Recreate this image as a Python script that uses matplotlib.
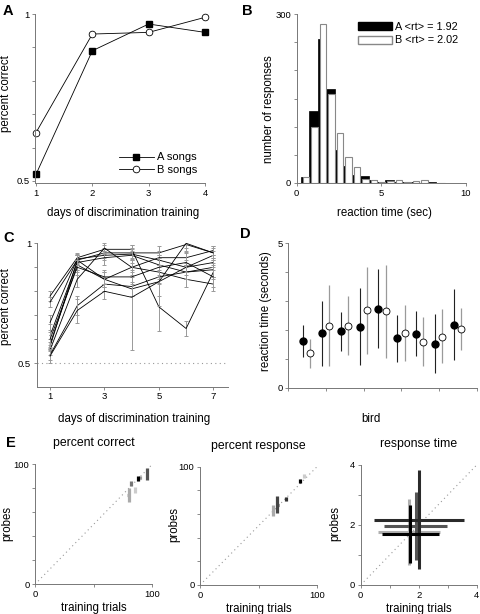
import matplotlib
matplotlib.use('Agg')
import matplotlib.pyplot as plt
import numpy as np
from matplotlib.patches import Patch

plt.rcParams['font.family'] = ['Liberation Sans', 'DejaVu Sans']
plt.rcParams['font.size'] = 8.3

# ---- datos ----
# A: percent correct por dia
days_a = [1, 2, 3, 4]
a_songs = [0.52, 0.89, 0.97, 0.945]
b_songs = [0.645, 0.94, 0.945, 0.99]

# B: histograma de tiempos de reaccion (bins de 0.5 s)
bin_left = np.arange(0.25, 8.5, 0.5)
hist_a = [10, 127, 255, 166, 59, 30, 15, 13, 5, 2, 5, 2.5, 2, 1.2, 0.5, 2, 0]
hist_b = [10, 99, 283, 158, 89, 47, 28, 7, 6, 1.5, 3, 5.5, 1.5, 3, 4.5, 0.6, 0]

# C: percent correct por ave y dia
days_c = [1, 2, 3, 4, 5, 6, 7]
c_means = [
    [0.78, 0.94, 0.975, 0.975, 0.735, 0.645, 0.88],
    [0.755, 0.93, 0.96, 0.96, 0.96, 0.995, 0.96],
    [0.67, 0.935, 0.95, 0.955, 0.93, 0.90, 0.95],
    [0.615, 0.92, 0.94, 0.95, 0.91, 0.88, 0.89],
    [0.58, 0.91, 0.85, 0.90, 0.94, 0.94, 0.97],
    [0.57, 0.93, 0.85, 0.81, 0.84, 0.90, 0.92],
    [0.555, 0.85, 0.98, 0.90, 0.88, 0.85, 0.83],
    [0.535, 0.74, 0.83, 0.82, 0.86, 0.88, 0.90],
    [0.53, 0.72, 0.80, 0.775, 0.84, 1.00, 0.96],
    [0.60, 0.90, 0.86, 0.86, 0.90, 0.92, 0.86],
]
c_errs = [
    [0.02, 0.02, 0.02, 0.02, 0.10, 0.03, 0.03],
    [0.02, 0.02, 0.02, 0.02, 0.03, 0.03, 0.02],
    [0.03, 0.02, 0.02, 0.02, 0.02, 0.02, 0.02],
    [0.05, 0.03, 0.03, 0.02, 0.04, 0.03, 0.03],
    [0.02, 0.02, 0.03, 0.03, 0.03, 0.03, 0.02],
    [0.02, 0.02, 0.03, 0.03, 0.06, 0.03, 0.03],
    [0.02, 0.03, 0.02, 0.02, 0.03, 0.03, 0.03],
    [0.02, 0.04, 0.03, 0.04, 0.03, 0.03, 0.04],
    [0.03, 0.05, 0.03, 0.22, 0.10, 0.02, 0.03],
    [0.03, 0.03, 0.03, 0.03, 0.04, 0.04, 0.04],
]

# D: tiempo de reaccion por ave (A lleno, B vacio)
birds = np.arange(1, 10)
d_filled = [1.62, 1.88, 1.96, 2.10, 2.71, 1.72, 1.87, 1.52, 2.17]
d_filled_lo = [1.07, 0.76, 1.28, 0.77, 1.36, 0.90, 1.10, 0.51, 0.96]
d_filled_hi = [2.17, 3.00, 2.61, 3.44, 4.10, 2.53, 2.64, 2.54, 3.41]
d_open = [1.20, 2.15, 2.15, 2.68, 2.66, 1.88, 1.58, 1.77, 2.03]
d_open_lo = [0.69, 0.75, 1.12, 1.18, 1.04, 0.94, 0.75, 0.84, 1.30]
d_open_hi = [1.69, 3.55, 3.18, 4.18, 4.24, 2.85, 2.44, 2.71, 2.75]

# E: probes vs training trials
e1_x = [79.8, 84.9, 82.0, 89.7, 87.7, 95.4]
e1_y = [74.5, 78.5, 84.0, 89.0, 88.0, 92.0]
e1_xerr = [1.0, 0.6, 0.6, 0.6, 0.8, 0.6]
e1_yerr = [5.5, 2.5, 2.0, 1.5, 2.3, 5.0]
e1_col = ['#aaaaaa', '#cccccc', '#777777', '#999999', '#000000', '#555555']

e2_x = [62.0, 66.0, 73.5, 85.5, 89.0]
e2_y = [63.0, 68.0, 73.0, 88.0, 92.0]
e2_xerr = [0.6, 1.3, 0.6, 1.0, 1.0]
e2_yerr = [4.5, 7.0, 1.8, 2.0, 1.5]
e2_col = ['#aaaaaa', '#444444', '#333333', '#000000', '#cccccc']

e3_x = [1.68, 1.90, 2.01, 1.71]
e3_y = [1.76, 1.97, 2.17, 1.70]
e3_xerr = [1.07, 1.08, 1.55, 0.99]
e3_yerr = [1.10, 1.12, 1.65, 0.97]
e3_col = ['#b0b0b0', '#555555', '#2a2a2a', '#000000']

# ---- figura ----
W, H = 481, 614
fig = plt.figure(figsize=(W / 100, H / 100), dpi=100)

def px_axes(l, t, r, b):
    return fig.add_axes([l / W, 1 - b / H, (r - l) / W, (b - t) / H])

def estilo(ax):
    for s in ['top', 'right']:
        ax.spines[s].set_visible(False)
    for s in ['left', 'bottom']:
        ax.spines[s].set_color('#777777')
        ax.spines[s].set_linewidth(0.7)
    ax.tick_params(direction='out', length=2.5, width=0.6, color='#777777',
                   labelsize=6.8, pad=1.5)

axA = px_axes(35, 14, 205, 183)
axB = px_axes(296.7, 14, 465.7, 183)
axC = px_axes(36.7, 243.3, 228.3, 386.7)
axD = px_axes(288.3, 243.3, 476.7, 387.7)
axE1 = px_axes(35, 464.3, 152.3, 584.3)
axE2 = px_axes(200, 466.7, 317, 585)
axE3 = px_axes(360.7, 465, 476.7, 585)

# Paso 1: panel A
estilo(axA)
axA.plot(days_a, a_songs, '-s', color='black', lw=0.6, ms=4, mfc='black',
         clip_on=False, label='A songs')
axA.plot(days_a, b_songs, '-o', color='black', lw=0.6, ms=4.8, mfc='white',
         mew=0.6, clip_on=False, label='B songs')
axA.set_xlim(0.982, 4.0)
axA.set_ylim(0.494, 1.0)
axA.set_xticks(days_a)
axA.set_yticks([0.5, 0.6, 0.7, 0.8, 0.9, 1.0])
axA.set_yticklabels(['0.5', '', '', '', '', '1'])
axA.set_xlabel('days of discrimination training')
axA.set_ylabel('percent correct')
axA.xaxis.set_label_coords(0.52, -0.14)
axA.yaxis.set_label_coords(-0.137, 0.53)
axA.legend(loc='lower right', frameon=False, handlelength=3.1, fontsize=8,
           borderaxespad=0.3, labelspacing=0.25, handletextpad=0.3)

# Paso 2: panel B
estilo(axB)
axB.bar(bin_left, hist_a, width=0.5, align='edge', color='black',
        edgecolor='black', lw=0.5)
axB.bar(bin_left + 0.12, hist_b, width=0.38, align='edge', color='white',
        edgecolor='#888888', lw=0.8)
axB.set_xlim(0, 10)
axB.set_ylim(0, 300)
axB.set_xticks([0, 5, 10])
axB.set_yticks(np.arange(0, 301, 50))
axB.set_yticklabels(['0', '', '', '', '', '', '300'])
axB.set_xlabel('reaction time (sec)')
axB.set_ylabel('number of responses')
axB.xaxis.set_label_coords(0.52, -0.14)
axB.yaxis.set_label_coords(-0.128, 0.44)
hB = [Patch(facecolor='black', edgecolor='black'),
      Patch(facecolor='white', edgecolor='#888888')]
axB.legend(hB, ['A <rt> = 1.92', 'B <rt> = 2.02'], loc='upper right',
           frameon=False, handlelength=3.1, handleheight=0.75, fontsize=7.8,
           borderaxespad=0.3, labelspacing=0.35, handletextpad=0.3)

# Paso 3: panel C
estilo(axC)
axC.axhline(0.5, color='#999999', ls=(0, (1, 3)), lw=0.8)
for m, e in zip(c_means, c_errs):
    axC.errorbar(days_c, m, yerr=e, fmt='none', ecolor='#999999',
                 elinewidth=0.7, capsize=1.3, capthick=0.7)
    axC.plot(days_c, m, '-', color='black', lw=0.6)
axC.set_xlim(0.51, 7.55)
axC.set_ylim(0.4025, 1.0)
axC.set_xticks([1, 3, 5, 7])
axC.set_yticks([0.5, 0.6, 0.7, 0.8, 0.9, 1.0])
axC.set_yticklabels(['0.5', '', '', '', '', '1'])
axC.set_xlabel('days of discrimination training')
axC.set_ylabel('percent correct')
axC.xaxis.set_label_coords(0.51, -0.186)
axC.yaxis.set_label_coords(-0.13, 0.556)

# Paso 4: panel D
estilo(axD)
yerr_f = [np.array(d_filled) - np.array(d_filled_lo),
          np.array(d_filled_hi) - np.array(d_filled)]
yerr_o = [np.array(d_open) - np.array(d_open_lo),
          np.array(d_open_hi) - np.array(d_open)]
axD.errorbar(birds - 0.22, d_filled, yerr=yerr_f, fmt='none', ecolor='#222222',
             elinewidth=0.8)
axD.errorbar(birds + 0.17, d_open, yerr=yerr_o, fmt='none', ecolor='#9a9a9a',
             elinewidth=0.9)
axD.plot(birds - 0.22, d_filled, 'o', color='black', ms=5, zorder=3)
axD.plot(birds + 0.17, d_open, 'o', mfc='white', mec='black', mew=0.6,
         ms=5, zorder=3)
axD.set_xlim(0, 10)
axD.set_ylim(0, 5)
axD.set_xticks([0, 2, 4, 6, 8, 10])
axD.set_xticklabels([])
axD.set_yticks([0, 1, 2, 3, 4, 5])
axD.set_yticklabels(['0', '', '', '', '', '5'])
axD.set_xlabel('bird')
axD.set_ylabel('reaction time (seconds)')
axD.xaxis.set_label_coords(0.44, -0.177)
axD.yaxis.set_label_coords(-0.088, 0.53)

# Paso 5: panel E
def panel_e(ax, xs, ys, xe, ye, cols, lim, titulo, lw, ylabx):
    estilo(ax)
    ax.plot([0, lim], [0, lim], color='#999999', ls=(0, (1, 3)), lw=0.8)
    for x, y, a, b, c in zip(xs, ys, xe, ye, cols):
        ax.errorbar(x, y, xerr=a, yerr=b, fmt='none', ecolor=c,
                    elinewidth=lw, capsize=0)
    ax.set_xlim(0, lim)
    ax.set_ylim(0, lim)
    ax.set_xlabel('training trials')
    ax.set_ylabel('probes')
    ax.set_title(titulo, fontsize=8.8, pad=13)
    ax.xaxis.set_label_coords(0.5, -0.15)
    ax.yaxis.set_label_coords(ylabx, 0.51)

panel_e(axE1, e1_x, e1_y, e1_xerr, e1_yerr, e1_col, 100, 'percent correct', 2.3, -0.185)
panel_e(axE2, e2_x, e2_y, e2_xerr, e2_yerr, e2_col, 100, 'percent response', 2.3, -0.17)
panel_e(axE3, e3_x, e3_y, e3_xerr, e3_yerr, e3_col, 4, 'response time', 2.2, -0.164)
for ax in [axE1, axE2]:
    ax.set_xticks([0, 50, 100])
    ax.set_xticklabels(['0', '', '100'])
    ax.set_yticks([0, 20, 40, 60, 80, 100])
    ax.set_yticklabels(['0', '', '', '', '', '100'])
axE3.set_xticks([0, 1, 2, 3, 4])
axE3.set_xticklabels(['0', '', '2', '', '4'])
axE3.set_yticks([0, 1, 2, 3, 4])
axE3.set_yticklabels(['0', '', '2', '', '4'])

# letras de panel
for letra, x, y in [('A', 3, 4), ('B', 242, 4), ('C', 3, 231),
                    ('D', 240, 227), ('E', 6, 436)]:
    fig.text(x / W, 1 - y / H, letra, fontsize=10.5, fontweight='bold',
             va='top', ha='left')

fig.savefig('out.png', dpi=100)
